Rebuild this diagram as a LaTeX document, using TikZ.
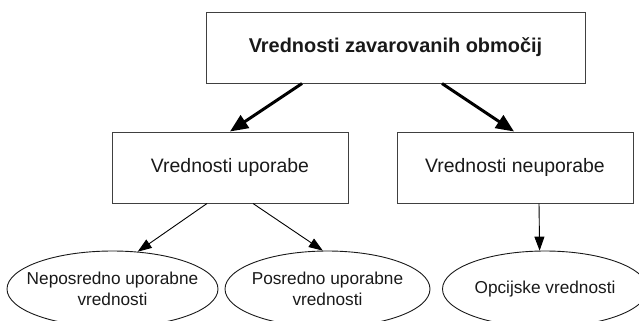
\documentclass[tikz,border=0pt]{standalone}
\usepackage{fontspec}
\setmainfont{Liberation Sans}
\usetikzlibrary{positioning,shapes.geometric,arrows.meta}
\tikzset{box node/.style={rectangle, draw=black!75, line width=1bp, minimum width=236bp, minimum height=71bp, inner sep=0pt, text=black!90, font=\fontsize{19.5}{23}\selectfont},
oval node/.style={ellipse, draw=black!90, line width=0.9bp, minimum width=205bp, minimum height=76bp, inner xsep=-12bp, inner ysep=0pt, align=center, text=black!90, font=\fontsize{17.3}{21}\selectfont},
big arrow/.style={-{Triangle[length=18bp,width=15bp]}, line width=3bp},
small arrow/.style={-{Triangle[length=14bp,width=10bp]}, line width=0.9bp},}

\begin{document}
\begin{tikzpicture}[x=1bp,y=-1bp]
        \useasboundingbox (0,0) rectangle (639,320);
        % Nodes
        \node[box node, minimum width=379bp, font=\fontsize{20}{24}\selectfont\bfseries] (top) at (395.5,47.5) {Vrednosti zavarovanih območij};
        \node[box node] (use) at (230,167.5) {Vrednosti uporabe};
        \node[box node] [right = 48bp of use] (nonuse) {Vrednosti neuporabe};
        \node[oval node, minimum width=211bp] (direct) at (112.5,289) {Neposredno uporabne\\vrednosti};
        \node[oval node] (indirect) at (327.5,289) {Posredno uporabne\\vrednosti};
        \node[oval node] (option) at (545,289) {Opcijske vrednosti};
        % Paths
        \path
        ([xshift=-93.5bp]top.south) edge[big arrow] (use.north)
        ([xshift=46.5bp]top.south) edge[big arrow] ([xshift=-1bp]nonuse.north)
        ([xshift=-23bp]use.south) edge[small arrow] (direct.56)
        ([xshift=23bp]use.south) edge[small arrow] (indirect.97)
        ([xshift=24bp]nonuse.south) edge[small arrow] (option.98);
    \end{tikzpicture}
\end{document}
